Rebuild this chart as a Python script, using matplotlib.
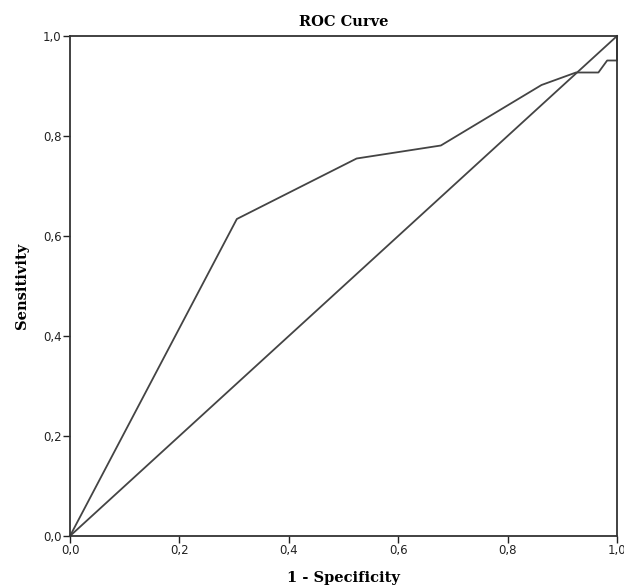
import matplotlib.pyplot as plt
from matplotlib.ticker import FuncFormatter

# ROC points
fpr = [0.0, 0.305, 0.524, 0.678, 0.862, 0.925, 0.966, 0.982, 1.0, 1.0]
tpr = [0.0, 0.634, 0.755, 0.781, 0.902, 0.927, 0.927, 0.951, 0.951, 1.0]
ref_x = [0.0, 1.0]
ref_y = [0.0, 1.0]
ticks = [0.0, 0.2, 0.4, 0.6, 0.8, 1.0]

fig = plt.figure(figsize=(6.24, 5.87), dpi=100)
ax = fig.add_axes([70 / 624, 1 - 536 / 587, 547 / 624, 500 / 587])

ax.plot(fpr, tpr, color="#444444", lw=1.3, clip_on=False)
ax.plot(ref_x, ref_y, color="#444444", lw=1.3, clip_on=False)

ax.set_xlim(0, 1)
ax.set_ylim(0, 1)
ax.set_xticks(ticks)
ax.set_yticks(ticks)
comma = FuncFormatter(lambda v, p: f"{v:.1f}".replace(".", ","))
ax.xaxis.set_major_formatter(comma)
ax.yaxis.set_major_formatter(comma)
ax.tick_params(direction="out", length=5, width=1, labelsize=8.5,
               colors="#222222", pad=1)

for s in ax.spines.values():
    s.set_color("#333333")
    s.set_linewidth(1.3)

serif = dict(family="DejaVu Serif", weight="bold", size=10.5)
ax.set_title("ROC Curve", pad=7, **serif)
ax.set_xlabel("1 - Specificity", labelpad=10, **serif)
ax.set_ylabel("Sensitivity", labelpad=10, **serif)

fig.savefig("out.png", dpi=100)
